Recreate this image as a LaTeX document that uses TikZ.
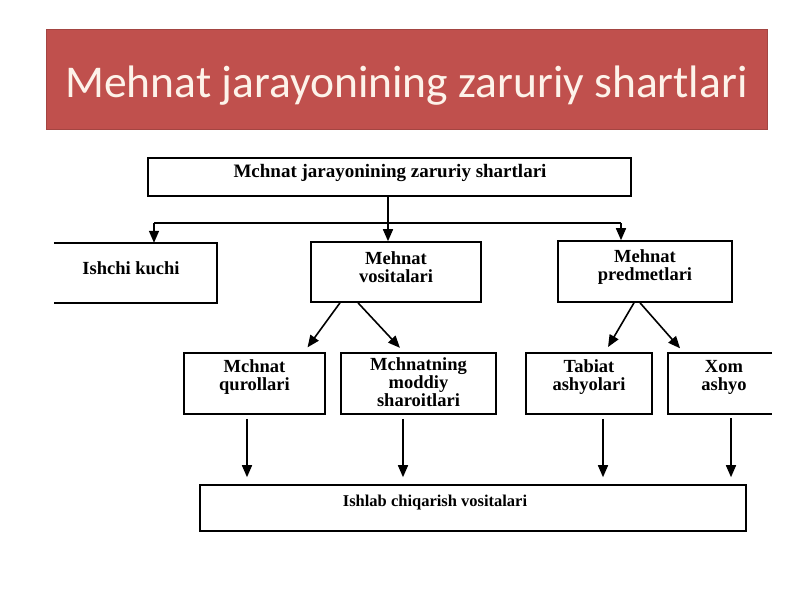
\documentclass[tikz,border=0pt]{standalone}
\usepackage{fontspec}
\setmainfont{Liberation Serif}
\newfontfamily\titlefont{Carlito}
\usetikzlibrary{arrows.meta}
\definecolor{banner}{HTML}{C0504D}
\definecolor{bannerline}{HTML}{A34542}
\definecolor{bannertext}{HTML}{FDF3EA}
\begin{document}
\begin{tikzpicture}[x=1pt,y=-1pt,
  box/.style={draw, line width=1.6pt, inner sep=0pt},
  openbox/.style={inner sep=0pt},
  lbl/.style={inner sep=0pt, align=center, font=\fontsize{18.5}{18}\selectfont\bfseries},
  edge/.style={line width=1.6pt},
  arr/.style={line width=1.6pt, -{Triangle[width=10pt,length=12pt]}}]
\useasboundingbox (0,0) rectangle (800,600);
\fill[white] (0,0) rectangle (800,600);
% title banner
\node[fill=banner, draw=bannerline, line width=1pt, minimum width=721pt, minimum height=100pt,
  inner sep=0pt] (title) at (406.5,79) {};
\node[text=bannertext, font=\titlefont\fontsize{45.5}{50}\selectfont, inner sep=0pt] (titletext) at (406.5,86)
  {Mehnat jarayonining zaruriy shartlari};
% boxes
\node[box, minimum width=483pt, minimum height=38pt] (top) at (389.5,177) {};
\node[lbl, font=\fontsize{19}{18}\selectfont\bfseries] (topt) at (390,173) {Mchnat jarayonining zaruriy shartlari};
\node[openbox, minimum width=163pt, minimum height=60pt] (ish) at (135.5,273) {};
\draw[edge] (ish.north west) -- (ish.north east) -- (ish.south east) -- (ish.south west);
\node[lbl] (isht) at (131,268) {Ishchi kuchi};
\node[box, minimum width=170pt, minimum height=60pt] (vos) at (396,272) {};
\node[lbl] (vost) at (396,267) {Mehnat\\vositalari};
\node[box, minimum width=174pt, minimum height=61pt] (pred) at (645,271.5) {};
\node[lbl] (predt) at (645,267) {Mehnat\\predmetlari};
\node[box, minimum width=141pt, minimum height=61pt] (qur) at (254.5,383.5) {};
\node[lbl] (qurt) at (254.5,377) {Mchnat\\qurollari};
\node[box, minimum width=155pt, minimum height=61pt] (mod) at (418.5,383.5) {};
\node[lbl] (modt) at (418.5,382) {Mchnatning\\moddiy\\sharoitlari};
\node[box, minimum width=126pt, minimum height=61pt] (tab) at (589,383.5) {};
\node[lbl] (tabt) at (589,377) {Tabiat\\ashyolari};
\node[openbox, minimum width=104pt, minimum height=61pt] (xom) at (720,383.5) {};
\draw[edge] (xom.north east) -- (xom.north west) -- (xom.south west) -- (xom.south east);
\node[lbl] (xomt) at (724,377) {Xom\\ashyo};
\node[box, minimum width=546pt, minimum height=46pt] (bot) at (473,508) {};
\node[lbl, font=\fontsize{16.5}{18}\selectfont\bfseries] (bott) at (435,503) {Ishlab chiqarish vositalari};
% top distribution
\coordinate (hl) at (154,223);
\coordinate (hr) at (621,223);
\coordinate (hm) at (388,223);
\draw[edge] (hl) -- (hr);
\draw[arr] (hl) -- (ish.north -| hl);
\draw[arr] (hr) -- (pred.north -| hr);
\draw[arr] (top.south -| hm) -- (vos.north -| hm);
% diagonals
\draw[arr, shorten >=6pt] ([xshift=-56pt]vos.south) -- ([xshift=49.5pt]qur.north);
\draw[arr, shorten >=6pt] ([xshift=-38pt]vos.south) -- ([xshift=-14.5pt]mod.north);
\draw[arr, shorten >=6pt] ([xshift=-11pt]pred.south) -- ([xshift=16pt]tab.north);
\draw[arr, shorten >=6pt] ([xshift=-5pt]pred.south) -- ([xshift=-36pt]xom.north);
% verticals to bottom
\draw[arr, shorten <=4pt, shorten >=7pt] ([xshift=-7.5pt]qur.south) -- ([xshift=-7.5pt]qur.south |- bot.north);
\draw[arr, shorten <=4pt, shorten >=7pt] ([xshift=-15.5pt]mod.south) -- ([xshift=-15.5pt]mod.south |- bot.north);
\draw[arr, shorten <=4pt, shorten >=7pt] ([xshift=14pt]tab.south) -- ([xshift=14pt]tab.south |- bot.north);
\draw[arr, shorten <=4pt, shorten >=7pt] ([xshift=11pt]xom.south) -- ([xshift=11pt]xom.south |- bot.north);
\end{tikzpicture}
\end{document}
